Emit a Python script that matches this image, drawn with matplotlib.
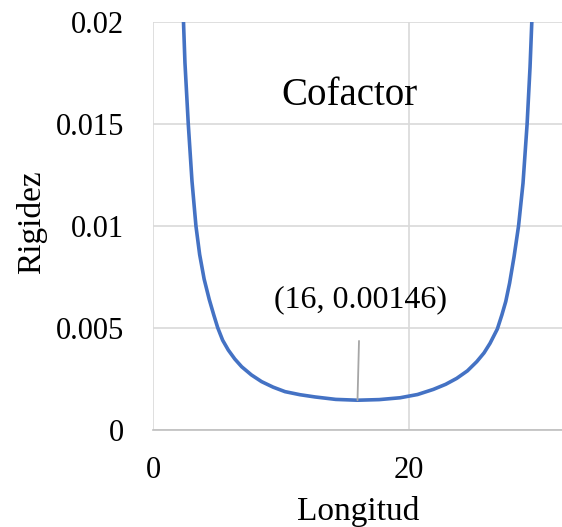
import matplotlib
matplotlib.use("Agg")
import matplotlib.pyplot as plt

# Data
longitud = [2.30, 2.50, 2.76, 3.05, 3.36, 3.65, 4.00, 4.40, 4.75, 5.06, 5.45, 5.89,
            6.40, 6.94, 7.70, 8.50, 9.40, 10.33, 11.50, 12.68, 14.30, 16.00, 17.70,
            19.33, 20.70, 21.93, 22.90, 23.76, 24.60, 25.33, 25.90, 26.37, 26.94,
            27.30, 27.60, 27.90, 28.25, 28.60, 28.95, 29.27, 29.50, 29.70]
rigidez = [0.0215, 0.0180, 0.0150, 0.0122, 0.0100, 0.0086, 0.0074, 0.0064, 0.00565,
           0.00502, 0.00440, 0.00392, 0.00348, 0.00310, 0.00270, 0.00237, 0.00210,
           0.00188, 0.00173, 0.00162, 0.00150, 0.00146, 0.00149, 0.00158, 0.00174,
           0.00199, 0.00224, 0.00253, 0.00290, 0.00335, 0.00378, 0.00425, 0.00495,
           0.00565, 0.00630, 0.00720, 0.00850, 0.01000, 0.01210, 0.01500, 0.01780,
           0.02100]
min_point = (16, 0.00146)
min_label = "(16, 0.00146)"
title_text = "Cofactor"
x_ticks = [0, 20]
y_ticks = [0, 0.005, 0.01, 0.015, 0.02]
y_ticklabels = ["0", "0.005", "0.01", "0.015", "0.02"]

plt.rcParams['font.family'] = ['Liberation Serif', 'DejaVu Serif']

fig = plt.figure(figsize=(5.62, 5.27), dpi=100)
ax = fig.add_axes([153/562, (527-430)/527, 1 - 153/562, (430-22)/527])

grid_c = "#d9d9d9"
ax.set_xlim(0, 32)
ax.set_ylim(0, 0.02)
ax.set_xticks(x_ticks)
ax.set_yticks(y_ticks)
ax.set_yticklabels(y_ticklabels)
ax.grid(True, color=grid_c, linewidth=1.2)
ax.set_axisbelow(True)
for s in ["top", "right", "left"]:
    ax.spines[s].set_visible(False)
ax.spines["bottom"].set_color("#bfbfbf")
ax.spines["bottom"].set_linewidth(1.2)
ax.tick_params(axis="both", length=0, labelsize=22, colors="black")
ax.tick_params(axis="x", pad=19)
ax.tick_params(axis="y", pad=21)

ax.plot(longitud, rigidez, color="#4472C4", linewidth=2.6, solid_capstyle="round",
        solid_joinstyle="round", clip_on=True)

ax.annotate(min_label, xy=min_point, xytext=(16.2, 0.00637),
            ha="center", va="center", fontsize=23,
            arrowprops=dict(arrowstyle="-", color="#a6a6a6", linewidth=1.3,
                            shrinkA=17, shrinkB=0))

ax.text(15.4, 0.01642, title_text, ha="center", va="center", fontsize=28)

ax.set_xlabel("Longitud", fontsize=24)
ax.set_ylabel("Rigidez", fontsize=24)
ax.xaxis.set_label_coords((358-153)/409, (430-496)/408)
ax.yaxis.set_label_coords((47-153)/409, (430-222)/408)

fig.savefig("out.png", dpi=100)
